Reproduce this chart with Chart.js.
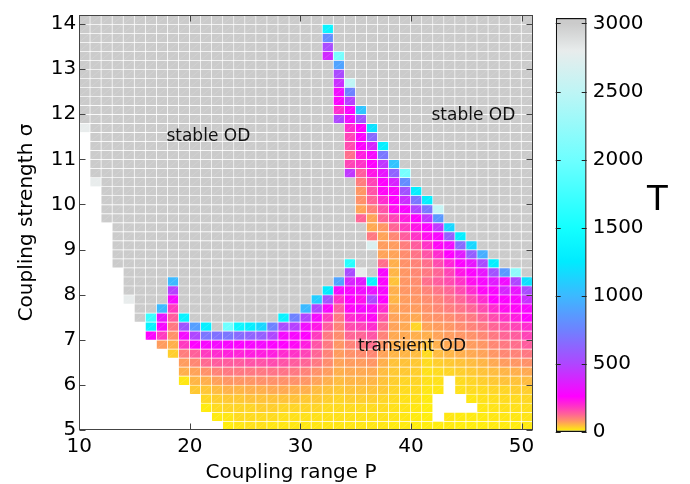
<!DOCTYPE html>
<html><head><meta charset="utf-8">
<script src="https://cdn.jsdelivr.net/npm/chart.js@4/dist/chart.umd.min.js"></script>
<style>
html,body{margin:0;padding:0;background:#fff;}
#wrap{position:relative;width:690px;height:484px;}
#wrap canvas{position:absolute;left:0;top:0;}
</style></head><body>
<div id="wrap"><canvas id="main" width="690" height="484"></canvas><canvas id="cbar" width="690" height="484"></canvas></div>
<script>
// ---- data ----
const P_VALUES = [10,11,12,13,14,15,16,17,18,19,20,21,22,23,24,25,26,27,28,29,30,31,32,33,34,35,36,37,38,39,40,41,42,43,44,45,46,47,48,49,50];
const SIGMA_VALUES = [14.0,13.8,13.6,13.4,13.2,13.0,12.8,12.6,12.4,12.2,12.0,11.8,11.6,11.4,11.2,11.0,10.8,10.6,10.4,10.2,10.0,9.8,9.6,9.4,9.2,9.0,8.8,8.6,8.4,8.2,8.0,7.8,7.6,7.4,7.2,7.0,6.8,6.6,6.4,6.2,6.0,5.8,5.6,5.4,5.2,5.0];
const SIGMA_STEP = 0.2;
const X_TICKS = [10,20,30,40,50];
const Y_TICKS = [5,6,7,8,9,10,11,12,13,14];
const CBAR_TICKS = [0,500,1000,1500,2000,2500,3000];
// T (transient time) per sigma row (top to bottom), columns P = 10..50; null = no data
const T_GRID = [
[3000,3000,3000,3000,3000,3000,3000,3000,3000,3000, 3000,3000,3000,3000,3000,3000,3000,3000,3000,3000, 3000,3000,3000,3000,3000,3000,3000,3000,3000,3000, 3000,3000,3000,3000,3000,3000,3000,3000,3000,3000, 3000],
[3000,3000,3000,3000,3000,3000,3000,3000,3000,3000, 3000,3000,3000,3000,3000,3000,3000,3000,3000,3000, 3000,3000,1350,3000,3000,3000,3000,3000,3000,3000, 3000,3000,3000,3000,3000,3000,3000,3000,3000,3000, 3000],
[3000,3000,3000,3000,3000,3000,3000,3000,3000,3000, 3000,3000,3000,3000,3000,3000,3000,3000,3000,3000, 3000,3000,800,3000,3000,3000,3000,3000,3000,3000, 3000,3000,3000,3000,3000,3000,3000,3000,3000,3000, 3000],
[3000,3000,3000,3000,3000,3000,3000,3000,3000,3000, 3000,3000,3000,3000,3000,3000,3000,3000,3000,3000, 3000,3000,520,3000,3000,3000,3000,3000,3000,3000, 3000,3000,3000,3000,3000,3000,3000,3000,3000,3000, 3000],
[3000,3000,3000,3000,3000,3000,3000,3000,3000,3000, 3000,3000,3000,3000,3000,3000,3000,3000,3000,3000, 3000,3000,400,2050,3000,3000,3000,3000,3000,3000, 3000,3000,3000,3000,3000,3000,3000,3000,3000,3000, 3000],
[3000,3000,3000,3000,3000,3000,3000,3000,3000,3000, 3000,3000,3000,3000,3000,3000,3000,3000,3000,3000, 3000,3000,3000,900,3000,3000,3000,3000,3000,3000, 3000,3000,3000,3000,3000,3000,3000,3000,3000,3000, 3000],
[3000,3000,3000,3000,3000,3000,3000,3000,3000,3000, 3000,3000,3000,3000,3000,3000,3000,3000,3000,3000, 3000,3000,3000,520,3000,3000,3000,3000,3000,3000, 3000,3000,3000,3000,3000,3000,3000,3000,3000,3000, 3000],
[3000,3000,3000,3000,3000,3000,3000,3000,3000,3000, 3000,3000,3000,3000,3000,3000,3000,3000,3000,3000, 3000,3000,3000,420,2500,3000,3000,3000,3000,3000, 3000,3000,3000,3000,3000,3000,3000,3000,3000,3000, 3000],
[3000,3000,3000,3000,3000,3000,3000,3000,3000,3000, 3000,3000,3000,3000,3000,3000,3000,3000,3000,3000, 3000,3000,3000,300,750,3000,3000,3000,3000,3000, 3000,3000,3000,3000,3000,3000,3000,3000,3000,3000, 3000],
[3000,3000,3000,3000,3000,3000,3000,3000,3000,3000, 3000,3000,3000,3000,3000,3000,3000,3000,3000,3000, 3000,3000,3000,270,480,3000,3000,3000,3000,3000, 3000,3000,3000,3000,3000,3000,3000,3000,3000,3000, 3000],
[3000,3000,3000,3000,3000,3000,3000,3000,3000,3000, 3000,3000,3000,3000,3000,3000,3000,3000,3000,3000, 3000,3000,3000,200,270,1050,3000,3000,3000,3000, 3000,3000,3000,3000,3000,3000,3000,3000,3000,3000, 3000],
[3000,3000,3000,3000,3000,3000,3000,3000,3000,3000, 3000,3000,3000,3000,3000,3000,3000,3000,3000,3000, 3000,3000,3000,500,300,560,3000,3000,3000,3000, 3000,3000,3000,3000,3000,3000,3000,3000,3000,3000, 3000],
[2800,3000,3000,3000,3000,3000,3000,3000,3000,3000, 3000,3000,3000,3000,3000,3000,3000,3000,3000,3000, 3000,3000,3000,3000,200,260,1200,3000,3000,3000, 3000,3000,3000,3000,3000,3000,3000,3000,3000,3000, 3000],
[null,3000,3000,3000,3000,3000,3000,3000,3000,3000, 3000,3000,3000,3000,3000,3000,3000,3000,3000,3000, 3000,3000,3000,3000,170,270,650,3000,3000,3000, 3000,3000,3000,3000,3000,3000,3000,3000,3000,3000, 3000],
[null,3000,3000,3000,3000,3000,3000,3000,3000,3000, 3000,3000,3000,3000,3000,3000,3000,3000,3000,3000, 3000,3000,3000,3000,160,260,380,1300,3000,3000, 3000,3000,3000,3000,3000,3000,3000,3000,3000,3000, 3000],
[null,3000,3000,3000,3000,3000,3000,3000,3000,3000, 3000,3000,3000,3000,3000,3000,3000,3000,3000,3000, 3000,3000,3000,3000,120,220,280,700,3000,3000, 3000,3000,3000,3000,3000,3000,3000,3000,3000,3000, 3000],
[null,3000,3000,3000,3000,3000,3000,3000,3000,3000, 3000,3000,3000,3000,3000,3000,3000,3000,3000,3000, 3000,3000,3000,3000,170,190,260,450,1050,3000, 3000,3000,3000,3000,3000,3000,3000,3000,3000,3000, 3000],
[null,3000,3000,3000,3000,3000,3000,3000,3000,3000, 3000,3000,3000,3000,3000,3000,3000,3000,3000,3000, 3000,3000,3000,3000,450,140,230,330,620,2050, 3000,3000,3000,3000,3000,3000,3000,3000,3000,3000, 3000],
[null,2800,3000,3000,3000,3000,3000,3000,3000,3000, 3000,3000,3000,3000,3000,3000,3000,3000,3000,3000, 3000,3000,3000,3000,3000,105,170,260,380,800, 3000,3000,3000,3000,3000,3000,3000,3000,3000,3000, 3000],
[null,null,3000,3000,3000,3000,3000,3000,3000,3000, 3000,3000,3000,3000,3000,3000,3000,3000,3000,3000, 3000,3000,3000,3000,3000,80,150,250,280,550, 1300,3000,3000,3000,3000,3000,3000,3000,3000,3000, 3000],
[null,null,3000,3000,3000,3000,3000,3000,3000,3000, 3000,3000,3000,3000,3000,3000,3000,3000,3000,3000, 3000,3000,3000,3000,3000,85,130,200,260,420, 700,1300,3000,3000,3000,3000,3000,3000,3000,3000, 3000],
[null,null,3000,3000,3000,3000,3000,3000,3000,3000, 3000,3000,3000,3000,3000,3000,3000,3000,3000,3000, 3000,3000,3000,3000,3000,70,100,150,240,280, 500,700,2550,3000,3000,3000,3000,3000,3000,3000, 3000],
[null,null,3000,3000,3000,3000,3000,3000,3000,3000, 3000,3000,3000,3000,3000,3000,3000,3000,3000,3000, 3000,3000,3000,3000,3000,130,70,130,170,220, 270,450,850,3000,3000,3000,3000,3000,3000,3000, 3000],
[null,null,null,3000,3000,3000,3000,3000,3000,3000, 3000,3000,3000,3000,3000,3000,3000,3000,3000,3000, 3000,3000,3000,3000,3000,3000,65,80,130,180, 230,270,450,1150,3000,3000,3000,3000,3000,3000, 3000],
[null,null,null,3000,3000,3000,3000,3000,3000,3000, 3000,3000,3000,3000,3000,3000,3000,3000,3000,3000, 3000,3000,3000,3000,3000,3000,110,70,95,140, 190,240,280,600,1300,3000,3000,3000,3000,3000, 3000],
[null,null,null,3000,3000,3000,3000,3000,3000,3000, 3000,3000,3000,3000,3000,3000,3000,3000,3000,3000, 3000,3000,3000,3000,3000,3000,2700,75,75,105, 140,190,250,300,650,1150,3000,3000,3000,3000, 3000],
[null,null,null,3000,3000,3000,3000,3000,3000,3000, 3000,3000,3000,3000,3000,3000,3000,3000,3000,3000, 3000,3000,3000,3000,3000,3000,3000,70,70,90, 115,150,200,260,350,600,950,3000,3000,3000, 3000],
[null,null,null,3000,3000,3000,3000,3000,3000,3000, 3000,3000,3000,3000,3000,3000,3000,3000,3000,3000, 3000,3000,3000,3000,1600,3000,3000,120,60,85, 100,120,160,210,270,330,520,1300,3000,3000, 3000],
[null,null,null,null,3000,3000,3000,3000,3000,3000, 3000,3000,3000,3000,3000,3000,3000,3000,3000,3000, 3000,3000,3000,3000,520,2800,3000,280,55,80, 95,110,130,170,230,270,330,550,850,2200, 3000],
[null,null,null,null,3000,3000,3000,3000,1000,3000, 3000,3000,3000,3000,3000,3000,3000,3000,3000,3000, 3000,3000,3000,900,380,350,1350,270,45,80, 90,120,140,160,190,240,280,350,300,500, 1200],
[null,null,null,null,3000,3000,3000,3000,480,3000, 3000,3000,3000,3000,3000,3000,3000,3000,3000,3000, 3000,3000,1250,290,280,300,320,280,60,80, 85,100,115,130,160,200,250,280,380,330, 520],
[null,null,null,null,2800,3000,3000,3000,290,3000, 3000,3000,3000,3000,3000,3000,3000,3000,3000,3000, 3000,1100,550,190,260,240,500,260,55,75, 80,90,100,115,130,160,200,260,270,280, 420],
[null,null,null,null,null,3000,3000,1000,180,3000, 3000,3000,3000,3000,3000,3000,3000,3000,3000,3000, 1000,500,280,140,250,280,290,200,65,75, 75,85,95,105,115,130,160,200,240,250, 280],
[null,null,null,null,null,3000,1700,330,140,1350, 3000,3000,3000,3000,3000,3000,3000,3000,1350,750, 500,290,180,110,200,220,250,150,70,70, 65,80,85,90,100,110,130,160,190,220, 260],
[null,null,null,null,null,null,1350,280,110,560, 880,1300,3000,2000,1400,1300,1150,750,520,480, 300,230,140,100,160,170,200,120,70,65, 30,70,75,80,90,100,110,130,150,170, 200],
[null,null,null,null,null,null,270,180,85,290, 500,700,680,700,650,620,600,500,290,280, 260,180,110,90,130,130,150,100,65,65, 60,60,70,75,80,85,95,110,130,140, 170],
[null,null,null,null,null,null,null,75,60,180, 260,280,290,280,270,280,290,270,260,250, 220,150,110,80,100,110,120,80,60,60, 55,45,60,65,70,75,80,95,110,120, 140],
[null,null,null,null,null,null,null,null,35,105, 135,180,200,215,210,220,220,220,200,190, 170,130,100,75,85,90,95,70,55,55, 50,25,50,55,60,65,70,80,95,100, 110],
[null,null,null,null,null,null,null,null,null,75, 95,125,140,140,140,150,150,160,150,140, 130,110,90,70,75,75,80,60,45,45, 40,25,35,40,45,50,55,65,75,80, 85],
[null,null,null,null,null,null,null,null,null,60, 70,85,100,110,110,110,110,115,115,110, 100,85,75,60,65,65,65,50,40,40, 35,20,25,30,35,40,45,50,55,60, 65],
[null,null,null,null,null,null,null,null,null,15, 55,60,72,80,80,80,85,85,85,85, 80,70,60,50,55,55,55,45,35,30, 30,20,20,null,25,30,35,40,45,45, 50],
[null,null,null,null,null,null,null,null,null,null, 40,42,50,58,55,60,60,65,65,60, 60,50,45,40,45,45,45,40,30,25, 25,15,15,null,20,25,25,30,30,35, 35],
[null,null,null,null,null,null,null,null,null,null, null,28,35,40,40,45,45,45,45,45, 40,40,35,30,35,35,35,30,25,20, 20,12,null,null,null,15,20,22,25,25, 28],
[null,null,null,null,null,null,null,null,null,null, null,12,25,30,30,30,35,35,30,30, 30,30,25,25,25,25,25,25,20,18, 15,10,null,null,null,null,15,18,20,20, 22],
[null,null,null,null,null,null,null,null,null,null, null,null,12,15,25,25,25,25,20,20, 20,20,20,20,20,20,20,20,18,15, 12,10,null,15,12,12,12,15,15,15, 18],
[null,null,null,null,null,null,null,null,null,null, null,null,null,10,15,20,20,15,15,15, 15,15,15,15,15,15,15,15,12,12, 10,10,10,12,10,10,10,12,12,12, 12]
];
// colormap stops: [T, [r,g,b]]
const T_COLOR_STOPS = [
  [0,[255,250,0]],[40,[255,200,50]],[80,[255,150,100]],[130,[255,100,150]],[190,[255,50,200]],
  [260,[255,0,255]],[500,[175,70,255]],[750,[110,130,255]],[1000,[60,185,255]],[1250,[0,235,255]],
  [1500,[20,255,255]],[2000,[110,255,255]],[2500,[190,245,245]],[2800,[232,236,236]],[3000,[203,203,203]],[3040,[203,203,203]]
];
const REGION_LABELS = [
  {text:'stable OD', p:21.67, s:11.40},
  {text:'stable OD', p:45.64, s:11.87},
  {text:'transient OD', p:40.09, s:6.76}
];

// ---- helpers ----
function tColor(t){
  const s = T_COLOR_STOPS;
  if (t <= s[0][0]) return 'rgb(' + s[0][1].join(',') + ')';
  for (let i = 1; i < s.length; i++) {
    if (t <= s[i][0]) {
      const f = (t - s[i-1][0]) / (s[i][0] - s[i-1][0]);
      const a = s[i-1][1], b = s[i][1];
      return 'rgb(' + [0,1,2].map(k => Math.round(a[k] + (b[k]-a[k])*f)).join(',') + ')';
    }
  }
  return 'rgb(' + s[s.length-1][1].join(',') + ')';
}

const cells = [];
SIGMA_VALUES.forEach((s, r) => {
  P_VALUES.forEach((p, c) => {
    const t = T_GRID[r][c];
    if (t !== null) cells.push({x: p + 0.5, y: [s, +(s + SIGMA_STEP).toFixed(2)], t: t});
  });
});

Chart.defaults.font.family = "'DejaVu Sans', sans-serif";
Chart.defaults.color = '#000';

const cellDiagonals = {
  id: 'cellDiagonals',
  afterDatasetsDraw(chart) {
    const ctx = chart.ctx, a = chart.chartArea;
    const meta = chart.getDatasetMeta(0);
    ctx.save();
    ctx.beginPath(); ctx.rect(a.left, a.top, a.right - a.left, a.bottom - a.top); ctx.clip();
    ctx.strokeStyle = 'rgba(255,255,255,0.2)';
    ctx.lineWidth = 0.7;
    ctx.beginPath();
    meta.data.forEach(el => {
      const p = el.getProps(['x','y','base','width'], true);
      ctx.moveTo(p.x - p.width/2, p.base);
      ctx.lineTo(p.x + p.width/2, p.y);
    });
    ctx.stroke();
    ctx.restore();
  }
};

const frameTicks = {
  id: 'frameTicks',
  afterDraw(chart) {
    const ctx = chart.ctx, a = chart.chartArea, x = chart.scales.x, y = chart.scales.y;
    ctx.save();
    ctx.strokeStyle = '#444';
    ctx.lineWidth = 1;
    const L = Math.round(a.left) + 0.5, R = Math.round(a.right) - 0.5, T = Math.round(a.top) + 0.5, B = Math.round(a.bottom) - 0.5;
    ctx.strokeRect(L, T, R - L, B - T);
    ctx.beginPath();
    X_TICKS.forEach(v => {
      const px = Math.round(x.getPixelForValue(v)) + 0.5;
      ctx.moveTo(px, B); ctx.lineTo(px, B - 6);
      ctx.moveTo(px, T); ctx.lineTo(px, T + 6);
    });
    Y_TICKS.forEach(v => {
      const py = Math.round(y.getPixelForValue(v)) + 0.5;
      ctx.moveTo(L, py); ctx.lineTo(L + 6, py);
      ctx.moveTo(R, py); ctx.lineTo(R - 6, py);
    });
    ctx.stroke();
    // region labels
    ctx.fillStyle = '#111';
    ctx.font = "17px 'DejaVu Sans'";
    ctx.textAlign = 'center';
    ctx.textBaseline = 'alphabetic';
    REGION_LABELS.forEach(l => ctx.fillText(l.text, x.getPixelForValue(l.p), y.getPixelForValue(l.s)));
    // axis titles
    ctx.fillStyle = '#000';
    ctx.font = "20px 'DejaVu Sans'";
    ctx.fillText('Coupling range P', 291, 478);
    ctx.save();
    ctx.translate(32, (a.top + a.bottom) / 2);
    ctx.rotate(-Math.PI / 2);
    ctx.fillText('Coupling strength σ', 0, 0);
    ctx.restore();
    ctx.restore();
  }
};

new Chart(document.getElementById('main'), {
  type: 'bar',
  data: { datasets: [{
    data: cells,
    backgroundColor: c => (c.raw ? tColor(c.raw.t) : '#ccc'),
    borderColor: 'rgba(255,255,255,0.22)',
    borderWidth: {top: 1, right: 1, bottom: 0, left: 0},
    borderSkipped: false,
    barPercentage: 1,
    categoryPercentage: 1
  }]},
  options: {
    responsive: false, animation: false, events: [],
    layout: { padding: { top: 9, right: 157.4, left: 0, bottom: 0 } },
    plugins: { legend: {display: false}, tooltip: {enabled: false} },
    scales: {
      x: {
        type: 'linear', min: 10, max: 51, offset: false,
        grid: {display: false, drawTicks: false}, border: {display: false},
        afterBuildTicks: s => { s.ticks = X_TICKS.map(v => ({value: v})); },
        afterFit: s => { s.height = 54; },
        ticks: {font: {size: 20}, color: '#000', padding: 5, maxRotation: 0, autoSkip: false, callback: v => String(v)}
      },
      y: {
        type: 'linear', min: 5, max: 14.2,
        grid: {display: false, drawTicks: false}, border: {display: false},
        afterBuildTicks: s => { s.ticks = Y_TICKS.map(v => ({value: v})); },
        afterFit: s => { s.width = 79.3; },
        ticks: {font: {size: 20}, color: '#000', padding: 3, autoSkip: false, callback: v => String(v)}
      }
    }
  },
  plugins: [cellDiagonals, frameTicks]
});

const cbarDecor = {
  id: 'cbarDecor',
  afterDraw(chart) {
    const ctx = chart.ctx, a = chart.chartArea, y = chart.scales.y;
    ctx.save();
    ctx.strokeStyle = '#222';
    ctx.lineWidth = 1;
    ctx.beginPath();
    CBAR_TICKS.forEach(v => {
      const py = Math.round(y.getPixelForValue(v)) + 0.5;
      ctx.moveTo(a.left, py); ctx.lineTo(a.left + 5, py);
      ctx.moveTo(a.right, py); ctx.lineTo(a.right - 5, py);
    });
    ctx.stroke();
    ctx.fillStyle = '#000';
    ctx.font = "34px 'DejaVu Sans'";
    ctx.textAlign = 'center';
    ctx.textBaseline = 'alphabetic';
    ctx.fillText('T', 657.5, 210);
    ctx.restore();
  }
};

new Chart(document.getElementById('cbar'), {
  type: 'bar',
  data: { labels: ['T'], datasets: [{
    data: [[0, 3040]],
    backgroundColor: c => {
      const ch = c.chart, ys = ch.scales.y;
      if (!ch.chartArea || !ys) return '#ccc';
      const y0 = ys.getPixelForValue(0), y1 = ys.getPixelForValue(3040);
      const g = ch.ctx.createLinearGradient(0, y0, 0, y1);
      T_COLOR_STOPS.forEach(st => g.addColorStop(st[0] / 3040, 'rgb(' + st[1].join(',') + ')'));
      return g;
    },
    borderColor: '#111',
    borderWidth: 1.5,
    borderSkipped: false,
    inflateAmount: 0,
    barPercentage: 1,
    categoryPercentage: 1
  }]},
  options: {
    responsive: false, animation: false, events: [],
    layout: { padding: { left: 555.7, top: 10.7, bottom: 52, right: 0 } },
    plugins: { legend: {display: false}, tooltip: {enabled: false} },
    scales: {
      x: { display: false },
      y: {
        position: 'right', min: 0, max: 3040,
        grid: {display: false, drawTicks: false}, border: {display: false},
        afterBuildTicks: s => { s.ticks = CBAR_TICKS.map(v => ({value: v})); },
        afterFit: s => { s.width = 103.3; },
        ticks: {font: {size: 20}, color: '#000', padding: 6, autoSkip: false, callback: v => String(v)}
      }
    }
  },
  plugins: [cbarDecor]
});
</script>
</body></html>
